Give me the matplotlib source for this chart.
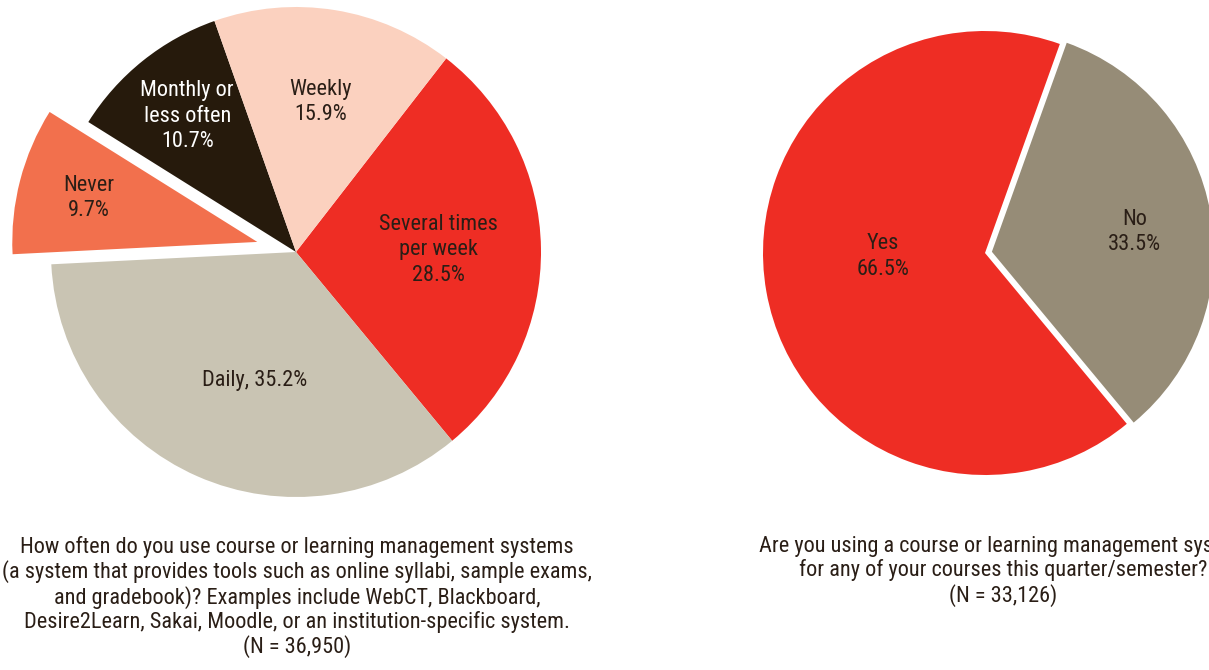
"""Two pie charts: course management system usage"""
import numpy as np
import matplotlib
matplotlib.use("Agg")
import matplotlib.pyplot as plt

plt.rcParams['font.family'] = ['Liberation Sans Narrow', 'Arial Narrow', 'Roboto Condensed',
                               'Archivo Narrow', 'PT Sans Narrow', 'Liberation Sans', 'DejaVu Sans']

# left pie: how often (drawn clockwise from the Weekly/Several boundary)
freq_cats = ["Several times\nper week", "Daily", "Never", "Monthly or\nless often", "Weekly"]
freq_vals = [28.5, 35.2, 9.7, 10.7, 15.9]
freq_seps = ["\n", ", ", "\n", "\n", "\n"]
freq_colors = ["#EE2D24", "#C9C4B3", "#F2704D", "#261A0C", "#FBD1BF"]
freq_explode = [0, 0, 40, 0, 0]
freq_label_r = [0.58, 0.55, 0.71, 0.71, 0.62]
freq_label_shift = [0, 6, 0, 0, 0]
freq_text_colors = ["#2a1e16", "#2a1e16", "#2a1e16", "white", "#2a1e16"]

# right pie: using a system this term
use_cats = ["Yes", "No"]
use_vals = [66.5, 33.5]
use_colors = ["#EE2D24", "#968C77"]
use_explode = [0, 7]
use_label_r = [0.46, 0.65]
use_label_shift = [-8, -2]

left_caption = ("How often do you use course or learning management systems\n"
                "(a system that provides tools such as online syllabi, sample exams,\n"
                "and gradebook)? Examples include WebCT, Blackboard,\n"
                "Desire2Learn, Sakai, Moodle, or an institution-specific system.\n"
                "(N = 36,950)")
right_caption = ("Are you using a course or learning management system\n"
                 "for any of your courses this quarter/semester?\n"
                 "(N = 33,126)")


def put_labels(ax, wedges, texts, dists, shifts, colors, size):
    """place a label inside each wedge"""
    for w, txt, d, s, c in zip(wedges, texts, dists, shifts, colors):
        ang = np.deg2rad((w.theta1 + w.theta2) / 2 + s)
        cx, cy = w.center
        ax.text(cx + d * w.r * np.cos(ang), cy + d * w.r * np.sin(ang), txt,
                ha='center', va='center', color=c, fontsize=size,
                linespacing=1.27)


fig = plt.figure(figsize=(12.09, 6.70), dpi=100)
ax = fig.add_axes([0, 0, 1, 1])

w1, _ = ax.pie(freq_vals, colors=freq_colors, explode=freq_explode,
               startangle=52.2, counterclock=False, center=(296, 418),
               radius=245, wedgeprops={'linewidth': 0})
freq_texts = [f"{c}{s}{v}%" for c, s, v in zip(freq_cats, freq_seps, freq_vals)]
put_labels(ax, w1, freq_texts, freq_label_r, freq_label_shift,
           freq_text_colors, 16)

w2, _ = ax.pie(use_vals, colors=use_colors, explode=use_explode,
               startangle=70.3, counterclock=True, center=(985, 417),
               radius=222, wedgeprops={'linewidth': 0})
use_texts = [f"{c}\n{v}%" for c, v in zip(use_cats, use_vals)]
put_labels(ax, w2, use_texts, use_label_r, use_label_shift,
           ["#2a1e16"] * 2, 16)

ax.text(297, 670 - 536, left_caption, ha='center', va='top', fontsize=16,
        color="#2a1e16", linespacing=1.13)
ax.text(1003, 670 - 536, right_caption, ha='center', va='top', fontsize=16,
        color="#2a1e16", linespacing=1.13)

ax.set_xlim(0, 1209)
ax.set_ylim(0, 670)
ax.set_aspect('auto')
ax.axis('off')

fig.savefig('out.png', dpi=100)
